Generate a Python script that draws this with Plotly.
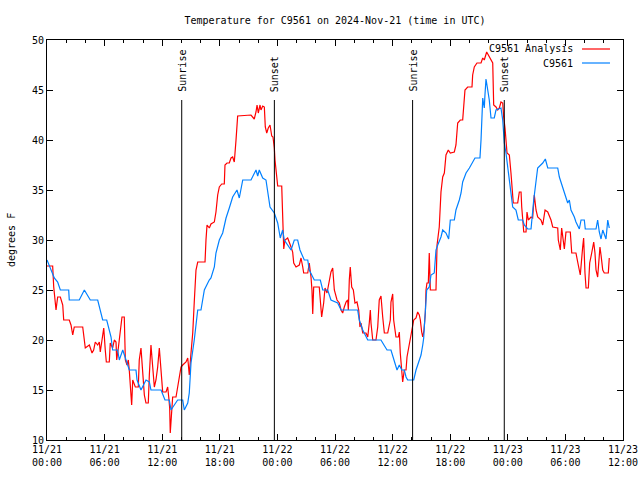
import pandas as pd
import plotly.graph_objects as go

START = pd.Timestamp("2024-11-21 00:00")

# hours after 2024-11-21 00:00 UTC, temperature (F)
analysis_hours = [0.0, 0.59, 0.70, 0.83, 0.94, 1.11, 1.39, 1.64, 1.74, 2.32, 2.5, 2.68, 2.84, 3.72, 3.89, 3.99,
                  4.41, 4.69, 4.86, 5.03, 5.28, 5.45, 5.55, 5.8, 5.91, 6.07, 6.18, 6.49, 6.59, 6.84, 7.01, 7.19,
                  7.26, 7.43, 7.71, 7.81, 8.05, 8.16, 8.33, 8.47, 8.57, 8.68, 8.82, 8.93, 9.2, 9.51, 9.61, 9.79,
                  9.9, 10.14, 10.31, 10.55, 10.66, 10.83, 11.01, 11.18, 11.35, 11.53, 11.7, 11.88, 12.05, 12.4,
                  12.57, 12.68, 12.78, 12.84, 12.99, 13.09, 13.44, 13.61, 13.78, 13.96, 14.14, 14.48, 14.66,
                  14.82, 15.0, 15.18, 15.34, 15.52, 15.7, 16.46, 16.56, 16.67, 16.91, 17.08, 17.43, 17.6, 17.78,
                  17.95, 18.2, 18.47, 18.54, 18.75, 18.99, 19.17, 19.34, 19.51, 19.69, 19.86, 21.25, 21.59,
                  21.77, 21.88, 22.01, 22.19, 22.29, 22.47, 22.64, 22.74, 22.89, 23.05, 23.23, 23.41, 23.54,
                  23.68, 23.75, 23.96, 24.03, 24.45, 24.55, 24.66, 24.79, 25.07, 25.42, 25.59, 25.7, 25.94,
                  26.28, 26.46, 26.64, 26.74, 27.16, 27.32, 27.5, 27.6, 27.68, 27.78, 28.36, 28.47, 28.61,
                  28.82, 28.96, 29.17, 29.41, 29.58, 29.76, 29.93, 30.21, 30.45, 30.63, 30.8, 30.97, 31.15,
                  31.32, 31.39, 31.49, 31.59, 31.74, 31.91, 32.08, 32.29, 32.47, 32.6, 32.71, 32.89, 33.23,
                  33.41, 33.57, 33.68, 33.75, 33.93, 34.27, 34.45, 34.61, 34.79, 34.97, 35.14, 35.49, 35.76,
                  35.83, 36.01, 36.11, 36.25, 36.35, 36.59, 36.7, 36.8, 36.95, 37.05, 37.22, 37.4, 37.5, 37.64,
                  37.84, 37.99, 38.09, 38.2, 38.44, 38.61, 38.78, 38.89, 39.03, 39.14, 39.27, 39.41, 39.48,
                  39.58, 39.72, 39.82, 39.93, 40.52, 40.63, 40.86, 41.04, 41.22, 41.39, 41.56, 41.8, 42.01,
                  42.43, 42.6, 42.78, 43.05, 43.3, 43.41, 43.54, 43.82, 44.27, 44.34, 44.51, 44.79, 45.21,
                  45.39, 45.55, 45.8, 45.97, 46.25, 46.43, 46.53, 46.77, 46.95, 47.12, 47.29, 47.47, 47.57,
                  47.71, 47.92, 48.16, 48.33, 48.44, 48.57, 49.03, 49.2, 49.38, 49.45, 49.66, 49.9, 50.0,
                  50.14, 50.42, 50.59, 50.76, 50.94, 51.11, 51.46, 51.64, 51.88, 52.16, 52.32, 52.5, 52.68,
                  53.2, 53.26, 53.47, 53.61, 53.78, 53.89, 54.06, 54.51, 54.66, 55.1, 55.28, 55.45, 55.55,
                  55.8, 55.9, 56.04, 56.15, 56.39, 56.53, 56.74, 56.95, 57.08, 57.19, 57.36, 57.6, 57.71,
                  57.89, 58.05, 58.47, 58.57]
analysis_temp = [27.4, 27.4, 25.3, 23.8, 23.0, 24.3, 24.3, 23.5, 22.0, 22.0, 21.5, 20.5, 21.3, 21.3, 20.2, 19.2,
                 19.5, 18.7, 19.0, 19.8, 19.5, 19.8, 18.8, 20.3, 21.2, 19.0, 17.8, 17.8, 19.7, 19.2, 20.0, 19.8,
                 18.0, 19.2, 21.2, 22.3, 22.3, 18.0, 17.5, 18.0, 17.0, 15.2, 13.5, 16.0, 15.3, 15.3, 18.0, 19.2,
                 17.3, 14.5, 13.7, 13.7, 16.5, 19.5, 17.3, 15.3, 16.0, 17.3, 19.2, 17.0, 14.8, 14.8,
                 15.3, 14.3, 13.2, 10.7, 12.7, 14.3, 14.3, 15.3, 16.3, 17.3, 17.5, 17.8, 18.2,
                 16.5, 18.7, 20.7, 23.8, 27.0, 27.8, 27.8, 30.0, 31.5, 31.2, 31.6, 31.8, 32.8, 34.5,
                 35.3, 35.6, 35.6, 37.5, 37.7, 37.7, 38.2, 38.3, 37.8, 40.0, 42.4, 42.5, 42.1,
                 42.8, 43.5, 42.7, 43.5, 43.0, 43.4, 43.3, 41.3, 40.7, 41.2, 41.5, 40.4, 40.3,
                 39.2, 38.0, 36.0, 35.4, 35.4, 31.0, 29.1, 30.0, 30.2, 29.3, 28.8, 27.7, 27.3,
                 27.5, 28.2, 27.3, 26.7, 26.7, 27.7, 26.3, 25.0, 22.6, 25.3, 25.3, 23.7, 22.3,
                 23.7, 25.2, 24.7, 26.0, 26.8, 27.2, 25.0, 24.0, 23.7, 23.0, 22.7, 23.3, 23.8,
                 24.0, 23.0, 26.0, 27.3, 25.3, 25.0, 23.7, 23.8, 23.0, 21.3, 21.7, 20.7, 20.7,
                 20.3, 21.7, 23.0, 21.7, 20.0, 20.0, 21.3, 24.0, 24.4, 22.3, 20.7, 20.7, 22.0,
                 23.8, 24.6, 22.0, 20.8, 20.3, 20.3, 20.8, 18.7, 17.0, 15.8, 17.0, 17.0, 18.3, 19.0,
                 19.8, 20.7, 21.3, 22.0, 22.2, 22.8, 22.5, 22.0, 20.8, 20.3, 21.0, 22.7, 25.0,
                 25.7, 25.7, 28.7, 25.0, 25.0, 29.5, 31.3, 34.8, 36.3, 36.7, 38.5, 39.0, 38.7,
                 38.8, 39.5, 41.7, 42.0, 42.0, 43.3, 45.0, 45.3, 45.3, 46.5, 47.3, 47.7, 47.7,
                 48.2, 48.0, 48.8, 48.5, 48.0, 47.7, 43.5, 43.3, 43.0, 43.2, 43.8, 43.7, 42.3,
                 41.2, 38.7, 38.5, 36.7, 34.7, 33.7, 33.7, 34.8, 34.8, 33.3, 30.8, 30.8, 32.8,
                 32.0, 32.3, 32.2, 34.5, 33.0, 32.3, 32.0, 31.5, 33.0, 32.8, 32.5, 32.0, 31.3,
                 31.2, 30.0, 29.0, 31.2, 30.0, 29.1, 30.8, 30.8, 28.7, 28.7, 27.8, 27.0, 26.5,
                 29.3, 30.2, 26.7, 25.2, 25.2, 27.7, 28.7, 29.8, 28.7, 27.0, 26.3, 29.3, 28.5,
                 27.0, 26.7, 26.7, 28.2]

station_hours = [0.0, 0.34, 0.76, 1.11, 1.39, 2.26, 2.32, 3.36, 3.89, 4.51, 5.28, 5.8, 6.22, 6.67, 6.84, 7.36,
                 7.53, 7.89, 8.23, 8.57, 9.27, 9.38, 9.79, 10.31, 10.66, 10.83, 11.88, 12.29, 12.74, 12.92,
                 13.26, 13.61, 14.14, 14.3, 14.66, 14.82, 15.0, 15.34, 15.7, 16.04, 16.39, 16.74, 16.9, 17.08,
                 17.43, 17.6, 17.95, 18.3, 18.65, 18.99, 19.34, 19.79, 20.03, 20.39, 21.25, 21.77, 21.95,
                 22.11, 22.47, 22.81, 22.99, 23.23, 23.68, 24.03, 24.3, 24.55, 24.72, 25.07, 25.42, 25.76,
                 26.11, 26.35, 26.8, 27.16, 27.32, 27.84, 28.47, 28.72, 29.24, 29.58, 30.28, 30.63, 32.36,
                 32.53, 32.89, 33.41, 34.79, 35.1, 35.42, 35.83, 36.11, 36.46, 36.7, 36.95, 37.22, 37.4,
                 37.57, 38.2, 38.44, 38.61, 38.78, 38.96, 39.14, 39.24, 39.3, 39.41, 39.55, 39.82, 40.0,
                 40.34, 40.52, 40.7, 41.04, 41.22, 41.56, 41.84, 42.01, 42.43, 42.6, 42.95, 43.13, 43.3,
                 43.65, 44.0, 44.34, 44.58, 45.1, 45.21, 45.39, 45.55, 45.62, 45.73, 45.91, 46.07, 46.25,
                 46.59, 46.77, 47.29, 47.47, 47.64, 47.81, 47.99, 48.16, 48.33, 48.51, 48.85, 49.09, 49.55,
                 49.72, 50.07, 50.42, 50.7, 50.94, 51.11, 51.64, 51.91, 52.16, 53.2, 53.37, 53.72, 54.06,
                 54.24, 54.41, 54.58, 54.93, 55.1, 55.45, 55.63, 55.97, 56.07, 57.19, 57.36, 57.53, 57.71,
                 57.89, 58.23, 58.41, 58.57]
station_temp = [28.0, 27.1, 26.2, 25.8, 25.0, 25.0, 24.0, 24.0, 25.0, 24.0, 24.0, 22.0, 22.0, 20.3, 19.0, 19.0,
                18.0, 19.0, 18.0, 17.0, 17.0, 16.0, 15.0, 16.0, 15.8, 15.0, 15.0, 14.0, 14.0, 13.0,
                13.5, 14.0, 14.0, 13.0, 13.7, 14.7, 17.7, 20.0, 23.0, 23.0, 25.0, 25.7, 26.0, 26.2,
                27.3, 28.7, 30.0, 30.7, 32.2, 33.2, 34.3, 35.0, 34.2, 36.0, 36.0, 37.0, 36.4,
                37.0, 36.2, 36.0, 34.7, 33.3, 32.7, 31.7, 30.2, 31.0, 30.0, 29.5, 29.0, 30.0,
                30.0, 29.0, 28.0, 28.0, 27.0, 26.0, 26.0, 25.0, 25.0, 24.0, 23.7, 23.0, 23.0,
                22.0, 21.0, 20.0, 20.0, 19.5, 19.0, 19.0, 18.0, 17.0, 17.5, 17.0, 17.0, 16.3,
                16.0, 16.0, 17.0, 17.5, 18.0, 18.5, 19.5, 20.2, 21.2, 22.7, 25.0, 25.3, 26.5,
                26.7, 29.0, 29.5, 30.3, 31.0, 30.7, 30.1, 32.0, 32.0, 33.0, 34.0, 34.7, 35.8,
                36.7, 37.2, 37.8, 38.2, 38.2, 40.0, 44.2, 43.2, 44.5, 46.1, 45.0, 44.0, 42.2,
                42.2, 43.0, 43.2, 42.0, 39.7, 38.7, 37.3, 36.0, 34.7, 33.3, 33.0, 32.0, 32.0,
                31.5, 31.1, 31.1, 34.0, 36.0, 37.2, 37.7, 38.1, 37.2, 37.2, 36.3, 35.3, 34.3,
                33.7, 34.0, 33.0, 32.3, 31.8, 31.1, 32.0, 32.0, 31.1, 31.1, 32.0, 30.8, 30.1,
                31.0, 30.1, 32.0, 31.2]

event_labels = ["Sunrise", "Sunset", "Sunrise", "Sunset"]
event_times = ["2024-11-21 14:02", "2024-11-21 23:41", "2024-11-22 14:05", "2024-11-22 23:38"]
event_line_top = 44.0

tick_times = ["2024-11-21 00:00", "2024-11-21 06:00", "2024-11-21 12:00", "2024-11-21 18:00",
              "2024-11-22 00:00", "2024-11-22 06:00", "2024-11-22 12:00", "2024-11-22 18:00",
              "2024-11-23 00:00", "2024-11-23 06:00", "2024-11-23 12:00"]
tick_labels = ["11/21<br>00:00", "11/21<br>06:00", "11/21<br>12:00", "11/21<br>18:00",
               "11/22<br>00:00", "11/22<br>06:00", "11/22<br>12:00", "11/22<br>18:00",
               "11/23<br>00:00", "11/23<br>06:00", "11/23<br>12:00"]
series_names = ["C9561 Analysis", "C9561"]
series_colors = ["#ff0000", "#0080ff"]

FONT = "DejaVu Sans Mono"

def to_time(hours):
    return START + pd.to_timedelta(pd.Series(hours), unit="h")

fig = go.Figure()
fig.add_trace(go.Scatter(x=to_time(analysis_hours), y=analysis_temp, mode="lines",
                         line=dict(color=series_colors[0], width=1.2), name=series_names[0]))
fig.add_trace(go.Scatter(x=to_time(station_hours), y=station_temp, mode="lines",
                         line=dict(color=series_colors[1], width=1.2), name=series_names[1]))

for lab, t in zip(event_labels, event_times):
    fig.add_shape(type="line", xref="x", yref="y", x0=t, x1=t, y0=10, y1=event_line_top,
                  line=dict(color="black", width=1))
    fig.add_annotation(x=t, y=event_line_top + 0.6, xref="x", yref="y", text=lab, textangle=-90,
                       showarrow=False, xanchor="center", yanchor="bottom",
                       font=dict(family=FONT, size=10, color="black"))

# manual gnuplot-style legend (text right-aligned, sample on the right)
legend_y = [0.9775, 0.9425]
for name, color, ly in zip(series_names, series_colors, legend_y):
    fig.add_annotation(x=0.9167, y=ly, xref="paper", yref="paper", text=name, showarrow=False,
                       xanchor="right", yanchor="middle", font=dict(family=FONT, size=10, color="black"))
    fig.add_shape(type="line", xref="paper", yref="paper", x0=0.9288, x1=0.9774, y0=ly, y1=ly,
                  line=dict(color=color, width=1.2))

fig.add_annotation(x=-0.0625, y=0.5, xref="paper", yref="paper", text="degrees F", textangle=-90,
                   showarrow=False, xanchor="center", yanchor="middle",
                   font=dict(family=FONT, size=10, color="black"))

fig.update_layout(
    width=650, height=480, autosize=False,
    margin=dict(l=47, r=18, t=40, b=40, pad=0),
    paper_bgcolor="white", plot_bgcolor="white",
    showlegend=False,
    font=dict(family=FONT, size=10, color="black"),
    title=dict(text="Temperature for C9561 on 2024-Nov-21 (time in UTC)", x=0.5, xref="paper",
               y=1 - 20 / 480, yref="container", xanchor="center", yanchor="middle",
               font=dict(family=FONT, size=10, color="black")),
)
fig.update_xaxes(
    range=["2024-11-21 00:00", "2024-11-23 12:00"],
    tickmode="array", tickvals=tick_times, ticktext=tick_labels,
    ticks="inside", ticklen=6, tickcolor="black", showline=True, linecolor="black", linewidth=1,
    mirror="allticks", showgrid=False, zeroline=False,
    tickfont=dict(family=FONT, size=10, color="black"),
    minor=dict(ticks="inside", ticklen=3, dtick=2 * 3600 * 1000, tick0="2024-11-21", tickcolor="black",
               showgrid=False),
)
fig.update_yaxes(
    range=[10, 50], dtick=5, tick0=10,
    ticks="inside", ticklen=6, tickcolor="black", showline=True, linecolor="black", linewidth=1,
    mirror="allticks", showgrid=False, zeroline=False,
    tickfont=dict(family=FONT, size=10, color="black"),
)

# remove the browser's default 8px body margin so the figure sits at the window's corner
fig.write_html("out.html", config={"displayModeBar": False},
               post_script="document.body.style.margin='0';document.body.style.overflow='hidden';")
